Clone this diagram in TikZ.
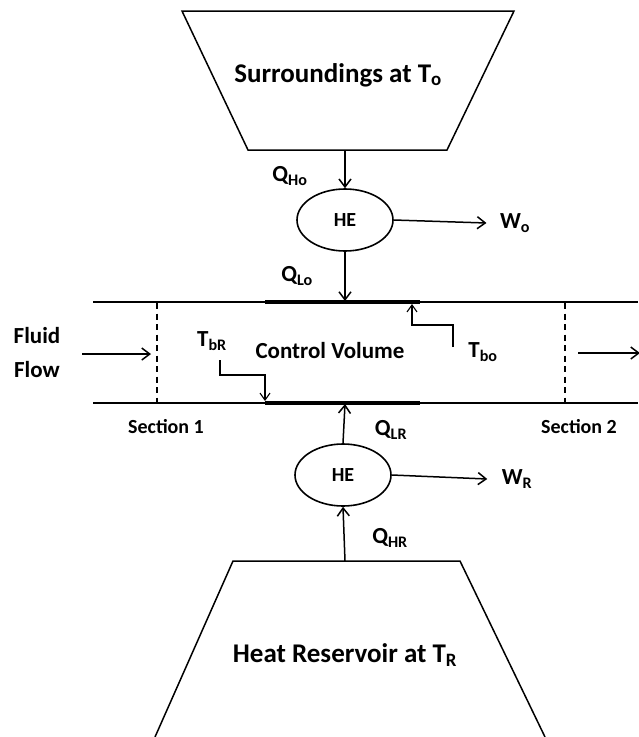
\documentclass[tikz,border=0pt]{standalone}
\usepackage{fontspec}
\setmainfont{Carlito}
\usepackage{tikz}
\usetikzlibrary{arrows.meta,positioning,shapes.geometric}
\newcommand{\lowr}[1]{\textsubscript{#1}}

\begin{document}
\begin{tikzpicture}[x=1pt, y=-1pt, every node/.style={font=\bfseries}, big/.style={font=\bfseries\fontsize{27}{30}\selectfont}, lbl/.style={font=\bfseries\fontsize{23}{26}\selectfont}, small/.style={font=\bfseries\fontsize{20}{22}\selectfont}, he/.style={draw, ellipse, line width=1.6pt, minimum width=96pt, minimum height=62pt, inner sep=0pt, font=\bfseries\fontsize{20}{22}\selectfont}, arr/.style={-{Straight Barb[length=8pt,width=12pt]}, line width=1.5pt}, thin arr/.style={-{Straight Barb[length=7pt,width=10pt]}, line width=1.1pt}, wall/.style={line width=1.5pt}, hot/.style={line width=3.4pt}, sect/.style={line width=1.4pt, dash pattern=on 6pt off 4.5pt}]
\useasboundingbox (0,0) rectangle (638,737);
% reservoirs
\draw[wall] (182,11) -- (514,11) -- (447,150) -- (248,150) -- cycle;
\draw[wall] (155,737) -- (233,561) -- (460,561) -- (545,737);
\node[big] (surr) at (338,75) {Surroundings at T\lowr{o}};
\node[big] (res) at (345,655) {Heat Reservoir at T\lowr{R}};
\coordinate (surrout) at (345,150);
\coordinate (resout) at (345,561);
% duct
\draw[wall] (93,302) -- (638,302);
\draw[wall] (93,403) -- (638,403);
\draw[hot] (265,302) -- (420,302);
\draw[hot] (265,403) -- (420,403);
\coordinate (topwall) at (345,301);
\coordinate (botwall) at (345,404);
\draw[sect] (157,303) -- (157,403);
\draw[sect] (565,303) -- (565,403);
\node[small] (sec1) at (166,427) {Section 1};
\node[small] (sec2) at (579,427) {Section 2};
\node[lbl] (fluid) at (37,336) {Fluid};
\node[lbl] (flow) at (37,370) {Flow};
\coordinate (inflow) at (82,354);
\coordinate (inend) at (151,354);
\coordinate (outflow) at (578,353);
\coordinate (outend) at (640,353);
\draw[arr] (inflow) -- (inend);
\draw[arr] (outflow) -- (outend);
\node[lbl] (cv) at (330,351) {Control Volume};
\node[lbl] (tbr) at (212,341) {T\lowr{bR}};
\node[lbl] (tbo) at (483,352) {T\lowr{bo}};
\draw[thin arr] (220,360) -- (220,375) -- (265,375) -- (265,401);
\draw[thin arr] (453,347) -- (453,325) -- (412,325) -- (412,304);
% engines
\node[he] (he1) at (345,220) {HE};
\node[he] (he2) at (343,475) {HE};
\node[lbl] (qho) at (290,176) {Q\lowr{Ho}};
\node[lbl] (qlo) at (297,276) {Q\lowr{Lo}};
\node[lbl] (qlr) at (391,430) {Q\lowr{LR}};
\node[lbl] (qhr) at (390,538) {Q\lowr{HR}};
\node[lbl] (wo) at (515,223) {W\lowr{o}};
\node[lbl] (wr) at (517,479) {W\lowr{R}};
\draw[arr] (surrout) -- (he1.north);
\draw[arr] (he1.south) -- (topwall);
\draw[arr] (he1.east) -- ([xshift=-10pt]wo.west);
\draw[arr] (resout) -- (he2.south);
\draw[arr] (he2.north) -- (botwall);
\draw[arr] (he2.east) -- ([xshift=-11pt]wr.west);
\end{tikzpicture}
\end{document}
